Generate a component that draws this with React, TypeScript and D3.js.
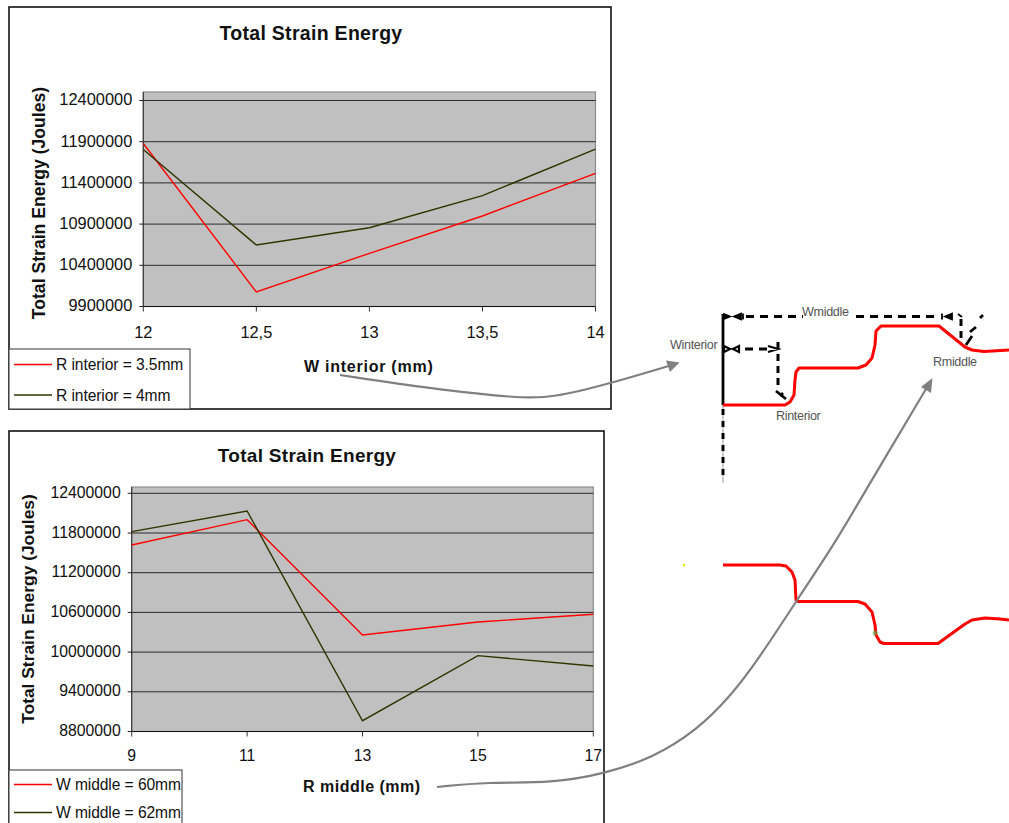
import React from "react";
import * as d3 from "d3";

// ---- chart data ----
const topCategories = [12, 12.5, 13, 13.5, 14];
const topCategoryLabels = ["12", "12,5", "13", "13,5", "14"];
const topTicks = [9900000, 10400000, 10900000, 11400000, 11900000, 12400000];
const topRedValues = [11878000, 10076000, 10545000, 10998000, 11516000];
const topOliveValues = [11805000, 10646000, 10856000, 11245000, 11811000];

const bottomCategories = [9, 11, 13, 15, 17];
const bottomCategoryLabels = ["9", "11", "13", "15", "17"];
const bottomTicks = [8800000, 9400000, 10000000, 10600000, 11200000, 11800000, 12400000];
const bottomRedValues = [11619000, 12001000, 10258000, 10455000, 10571000];
const bottomOliveValues = [11820000, 12133000, 8963000, 9946000, 9790000];

// ---- hand-sketched diagram outlines ----
type P = [number, number];
const profileUpper: P[] = [[723,405],[785,405],[790,402],[794,395],[795,380],[796,372],[799,368],[858,368],[866,365],[872,358],[875,345],[876,331],[881,326],[939,326],[965,347],[972,350],[984,351.5],[1009,350]];
const profileLower: P[] = [[723,565],[780,565],[786,566],[792,572],[795,580],[796,600],[798,601.5],[858,601.5],[865,604],[872,612],[875,625],[876,635],[880,642],[884,643.5],[938,643.5],[965,624],[972,620],[985,618],[1000,619],[1009,620]];
const arrowOne: P[] = [[340,375],[340,375],[433,389],[517,398],[552,398],[612,383],[672,365],[672,365]];
const arrowTwo: P[] = [[437,787],[437,787],[487,782],[553,783],[603,774],[653,758],[697,730],[730,697],[758,660],[797,600],[837,540],[867,488],[926,389],[926,389]];

const FONT = "'Liberation Sans', Arial, sans-serif";
const RED = "#ff0000";
const OLIVE = "#333300";

type ChartProps = {
  frame: [number, number, number, number];
  plot: [number, number, number, number];
  categories: number[];
  labels: string[];
  ticks: number[];
  red: number[];
  olive: number[];
  domainTop: number;
  titleX: number;
  titleY: number;
  yTitleX: number;
  yTitleY: number;
  xTitle: string;
  xTitleX: number;
  xTitleY: number;
  xTitleSpacing: number;
  xLabelY: number;
  tickSize: number;
  legendBox: [number, number, number, number];
  legendNames: string[];
  legendRows: number[];
  titleSize: number;
  yTitleSize: number;
};

function Chart(p: ChartProps) {
  const [fx, fy, fw, fh] = p.frame;
  const [left, top, right, bottom] = p.plot;
  const x = d3.scaleLinear().domain([p.categories[0], p.categories[p.categories.length - 1]]).range([left, right]);
  const y = d3.scaleLinear().domain([p.ticks[0], p.domainTop]).range([bottom, top]);
  const line = d3.line<number>().x((_, i) => x(p.categories[i])).y((d) => y(d));
  const [lx, ly, lw, lh] = p.legendBox;
  return (
    <g fontFamily={FONT} fill="#111">
      <rect x={fx} y={fy} width={fw} height={fh} fill="#fff" stroke="#111" strokeWidth={1.6} />
      <rect x={left} y={top} width={right - left} height={bottom - top} fill="#c0c0c0" stroke="#8c8c8c" strokeWidth={1.2} />
      {p.ticks.slice(1).map((t) => (
        <line key={t} x1={left} x2={right} y1={y(t)} y2={y(t)} stroke="#1a1a1a" strokeWidth={0.9} />
      ))}
      <line x1={left} x2={left} y1={top} y2={bottom} stroke="#333" strokeWidth={1.1} />
      <line x1={left} x2={right} y1={bottom} y2={bottom} stroke="#111" strokeWidth={1.1} />
      {p.ticks.map((t) => (
        <g key={t}>
          <line x1={left - 4} x2={left} y1={y(t)} y2={y(t)} stroke="#222" strokeWidth={1} />
          <text x={left - 11} y={y(t) - 1} dy="0.36em" textAnchor="end" fontSize={p.tickSize}>{d3.format("d")(t)}</text>
        </g>
      ))}
      {p.categories.map((c, i) => (
        <g key={c}>
          <line x1={x(c)} x2={x(c)} y1={bottom} y2={bottom + 5} stroke="#333" strokeWidth={1} />
          <text x={x(c)} y={p.xLabelY} dy="0.36em" textAnchor="middle" fontSize={p.tickSize}>{p.labels[i]}</text>
        </g>
      ))}
      <path d={line(p.red) ?? ""} fill="none" stroke={RED} strokeWidth={1.4} />
      <path d={line(p.olive) ?? ""} fill="none" stroke={OLIVE} strokeWidth={1.4} />
      <text x={p.titleX} y={p.titleY} dy="0.36em" textAnchor="middle" fontWeight="bold" fontSize={p.titleSize} letterSpacing={0.3}>Total Strain Energy</text>
      <text transform={`translate(${p.yTitleX},${p.yTitleY}) rotate(-90)`} dy="0.36em" textAnchor="middle" fontWeight="bold" fontSize={p.yTitleSize}>Total Strain Energy (Joules)</text>
      <text x={p.xTitleX} y={p.xTitleY} dy="0.36em" fontWeight="bold" fontSize={16} letterSpacing={p.xTitleSpacing} xmlSpace="preserve">{p.xTitle}</text>
      <rect x={lx} y={ly} width={lw} height={lh} fill="#fff" stroke="#444" strokeWidth={1.1} />
      {p.legendNames.map((name, i) => (
        <g key={name}>
          <line x1={lx + 5} x2={lx + 43} y1={p.legendRows[i]} y2={p.legendRows[i]} stroke={i === 0 ? RED : OLIVE} strokeWidth={1.3} />
          <text x={lx + 47} y={p.legendRows[i]} dy="0.36em" fontSize={15.6} letterSpacing={-0.08}>{name}</text>
        </g>
      ))}
    </g>
  );
}

function Dash({ d, w = 3, dash = "8 6" }: { d: string; w?: number; dash?: string }) {
  return <path d={d} fill="none" stroke="#000" strokeWidth={w} strokeDasharray={dash} />;
}

export default function App() {
  const linear = d3.line();
  const smooth = d3.line().curve(d3.curveBasis);
  return (
    <svg width={1009} height={823} viewBox="0 0 1009 823" style={{ position: "absolute", left: 0, top: 0, display: "block", background: "#fff" }}>
      <Chart
        frame={[9, 7, 602, 402]}
        plot={[143.3, 92, 595.5, 306.5]}
        categories={topCategories}
        labels={topCategoryLabels}
        ticks={topTicks}
        red={topRedValues}
        olive={topOliveValues}
        domainTop={12503000}
        titleX={311}
        titleY={33}
        yTitleX={39}
        yTitleY={203}
        xTitle="W interior (mm)"
        xTitleX={304}
        xTitleY={366}
        xTitleSpacing={0.75}
        xLabelY={332}
        tickSize={16.4}
        legendBox={[9, 349, 181, 60]}
        legendNames={["R interior = 3.5mm", "R interior = 4mm"]}
        legendRows={[364.5, 395]}
        titleSize={19.5}
        yTitleSize={17.6}
      />
      <Chart
        frame={[9, 431, 595, 400]}
        plot={[131.7, 487, 593.3, 731.5]}
        categories={bottomCategories}
        labels={bottomCategoryLabels}
        ticks={bottomTicks}
        red={bottomRedValues}
        olive={bottomOliveValues}
        domainTop={12495000}
        titleX={307}
        titleY={455}
        yTitleX={28}
        yTitleY={609}
        xTitle="R middle (mm)"
        xTitleX={303}
        xTitleY={786}
        xTitleSpacing={0.5}
        xLabelY={755}
        tickSize={15.8}
        legendBox={[9, 770, 173, 70]}
        legendNames={["W middle = 60mm", "W middle = 62mm"]}
        legendRows={[784.5, 812.5]}
        titleSize={19}
        yTitleSize={17.4}
      />

      {/* upper diagram */}
      <path d="M723 405V483" stroke="#999" strokeWidth={1} fill="none" />
      <Dash d="M723 409V480" w={3} dash="6 6" />
      <path d="M723 314V405" stroke="#000" strokeWidth={2.8} fill="none" />
      <Dash d="M746 316.5H803" />
      <Dash d="M856 316.5H940" />
      <path d="M724 314l6 2.5l-6 2.5zM734 316.5l7-3v6zM743 313.5v6" fill="#000" stroke="#000" strokeWidth={1.8} />
      <path d="M942 313.5v6M945 316.5l7-3v6zM958 314l4 3" fill="#000" stroke="#000" strokeWidth={1.8} />
      <Dash d="M961 319V339" w={3} dash="7 5" />
      <path d="M966 345L972 336M970 332l6-5M980 318l3-3" stroke="#000" strokeWidth={2.8} fill="none" />
      <Dash d="M745 349H768" />
      <path d="M724 346l6 3l-6 3zM733 349l6-3v6zM768 346l10 3l-10 3" fill="none" stroke="#000" strokeWidth={2.2} />
      <Dash d="M778 342V386" w={3} dash="7 5" />
      <path d="M776 391L786 399M780 396l3-3" stroke="#000" strokeWidth={2.8} fill="none" />
      <path d={linear(profileUpper) ?? ""} fill="none" stroke={RED} strokeWidth={3} strokeLinejoin="round" />
      <g fontFamily={FONT} fontSize={12.6} fill="#555" letterSpacing={-0.35}>
        <text x={802} y={316}>Wmiddle</text>
        <text x={670} y={349}>Winterior</text>
        <text x={776} y={420}>Rinterior</text>
        <text x={933} y={366}>Rmiddle</text>
      </g>

      {/* lower diagram */}
      <path d={linear(profileLower) ?? ""} fill="none" stroke={RED} strokeWidth={3} strokeLinejoin="round" />
      <circle cx={684} cy={565} r={1.2} fill="#e6e600" />
      <circle cx={875} cy={633} r={2.5} fill="#4caf50" opacity={0.6} />

      {/* connecting arrows */}
      <path d={smooth(arrowOne) ?? ""} fill="none" stroke="#808080" strokeWidth={2.2} />
      <path d="M679.5 362.5L666 360.5L670 372Z" fill="#808080" />
      <path d={smooth(arrowTwo) ?? ""} fill="none" stroke="#808080" strokeWidth={2.2} />
      <path d="M932.5 378L921 387L931 393Z" fill="#808080" />
    </svg>
  );
}
